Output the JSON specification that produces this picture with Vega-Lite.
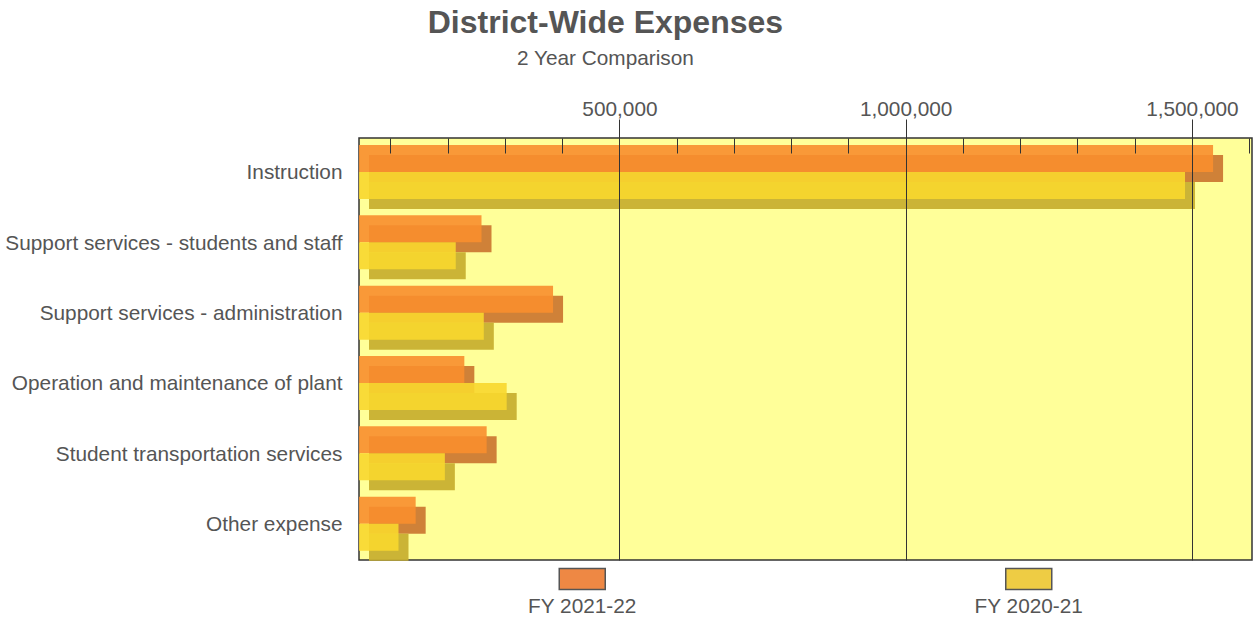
{
  "$schema": "https://vega.github.io/schema/vega-lite/v6.json",
  "padding": {"left": 4, "right": 5, "top": 7, "bottom": 2},
  "background": "white",
  "datasets": {
    "expenses": [
      {"category": "Instruction", "series": "FY 2021-22", "value": 1537000},
      {"category": "Instruction", "series": "FY 2020-21", "value": 1488000},
      {"category": "Support services - students and staff", "series": "FY 2021-22", "value": 259000},
      {"category": "Support services - students and staff", "series": "FY 2020-21", "value": 214000},
      {"category": "Support services - administration", "series": "FY 2021-22", "value": 384000},
      {"category": "Support services - administration", "series": "FY 2020-21", "value": 263000},
      {"category": "Operation and maintenance of plant", "series": "FY 2021-22", "value": 229000},
      {"category": "Operation and maintenance of plant", "series": "FY 2020-21", "value": 303000},
      {"category": "Student transportation services", "series": "FY 2021-22", "value": 268000},
      {"category": "Student transportation services", "series": "FY 2020-21", "value": 195000},
      {"category": "Other expense", "series": "FY 2021-22", "value": 144000},
      {"category": "Other expense", "series": "FY 2020-21", "value": 114000}
    ]
  },
  "data": {"name": "expenses"},
  "title": {
    "text": "District-Wide Expenses",
    "subtitle": "2 Year Comparison",
    "font": "Liberation Sans",
    "fontSize": 32,
    "fontWeight": "bold",
    "color": "#555555",
    "subtitleFont": "Liberation Sans",
    "subtitleFontSize": 20.8,
    "subtitleColor": "#555555",
    "subtitlePadding": 9,
    "anchor": "middle",
    "frame": "bounds",
    "offset": 27,
    "dx": -23
  },
  "spacing": 3,
  "vconcat": [
    {
      "width": 893,
      "height": 422,
      "view": {"fill": "#FFFF99", "stroke": "#333333", "strokeWidth": 1.5},
      "encoding": {
        "y": {
          "field": "category",
          "type": "nominal",
          "sort": ["Instruction", "Support services - students and staff", "Support services - administration", "Operation and maintenance of plant", "Student transportation services", "Other expense"],
          "scale": {"paddingInner": 0, "paddingOuter": 0},
          "axis": {"title": null, "domain": false, "ticks": false, "labelFont": "Liberation Sans", "labelFontSize": 20.8, "labelColor": "#555555", "labelPadding": 17, "labelLimit": 600}
        }
      },
      "layer": [
        {
          "transform": [{"filter": "datum.series === 'FY 2021-22'"}],
          "mark": {"type": "bar", "color": "#CC7A33", "opacity": 0.95, "height": 27, "yOffset": -4.65, "xOffset": 10, "x2Offset": 10},
          "encoding": {
            "x": {"field": "value", "type": "quantitative", "scale": {"domain": [45000, 1605000], "zero": false, "nice": false},
              "axis": {"orient": "top", "values": [100000, 200000, 300000, 400000, 500000, 600000, 700000, 800000, 900000, 1000000, 1100000, 1200000, 1300000, 1400000, 1500000, 1600000], "labels": false, "domain": false, "grid": false, "tickSize": -15, "tickColor": "#333333", "tickWidth": 1, "title": null, "zindex": 1}},
            "x2": {"datum": 45000}
          }
        },
        {
          "transform": [{"filter": "datum.series === 'FY 2021-22'"}],
          "mark": {"type": "bar", "color": "#F88E2E", "opacity": 0.9, "height": 27, "yOffset": -14.65},
          "encoding": {
            "x": {"field": "value", "type": "quantitative", "scale": {"domain": [45000, 1605000], "zero": false, "nice": false},
              "axis": {"orient": "top", "values": [500000, 1000000, 1500000], "format": ",d", "domain": false, "grid": true, "gridColor": "#333333", "gridWidth": 1, "gridOpacity": 1, "tickSize": 19, "tickColor": "#333333", "labelFont": "Liberation Sans", "labelFontSize": 20.8, "labelColor": "#555555", "labelPadding": 0, "title": null, "zindex": 1}},
            "x2": {"datum": 45000}
          }
        },
        {
          "transform": [{"filter": "datum.series === 'FY 2020-21'"}],
          "mark": {"type": "bar", "color": "#C8B030", "opacity": 0.95, "height": 27, "yOffset": 22.35, "xOffset": 10, "x2Offset": 10},
          "encoding": {
            "x": {"field": "value", "type": "quantitative", "scale": {"domain": [45000, 1605000], "zero": false, "nice": false}, "axis": null},
            "x2": {"datum": 45000}
          }
        },
        {
          "transform": [{"filter": "datum.series === 'FY 2020-21'"}],
          "mark": {"type": "bar", "color": "#F8D72E", "opacity": 0.9, "height": 27, "yOffset": 12.35},
          "encoding": {
            "x": {"field": "value", "type": "quantitative", "scale": {"domain": [45000, 1605000], "zero": false, "nice": false}, "axis": null},
            "x2": {"datum": 45000}
          }
        }
      ],
      "resolve": {"axis": {"x": "independent"}}
    },
    {
      "width": 893,
      "height": 22,
      "view": {"stroke": null},
      "transform": [{"aggregate": [{"op": "count", "as": "n"}], "groupby": ["series"]}],
      "encoding": {
        "x": {"field": "series", "type": "nominal", "sort": ["FY 2021-22", "FY 2020-21"], "scale": {"type": "point", "padding": 0.5}, "axis": null}
      },
      "layer": [
        {
          "mark": {"type": "point", "shape": "M-1,-0.457H1V0.457H-1Z", "size": 2116, "filled": true, "opacity": 1, "stroke": "#555555", "strokeWidth": 1.5},
          "encoding": {
            "color": {"field": "series", "type": "nominal", "scale": {"domain": ["FY 2021-22", "FY 2020-21"], "range": ["#EE8844", "#EECC44"]}, "legend": null}
          }
        },
        {
          "mark": {"type": "text", "dy": 28, "font": "Liberation Sans", "fontSize": 20.8, "color": "#555555"},
          "encoding": {"text": {"field": "series"}}
        }
      ]
    }
  ]
}
